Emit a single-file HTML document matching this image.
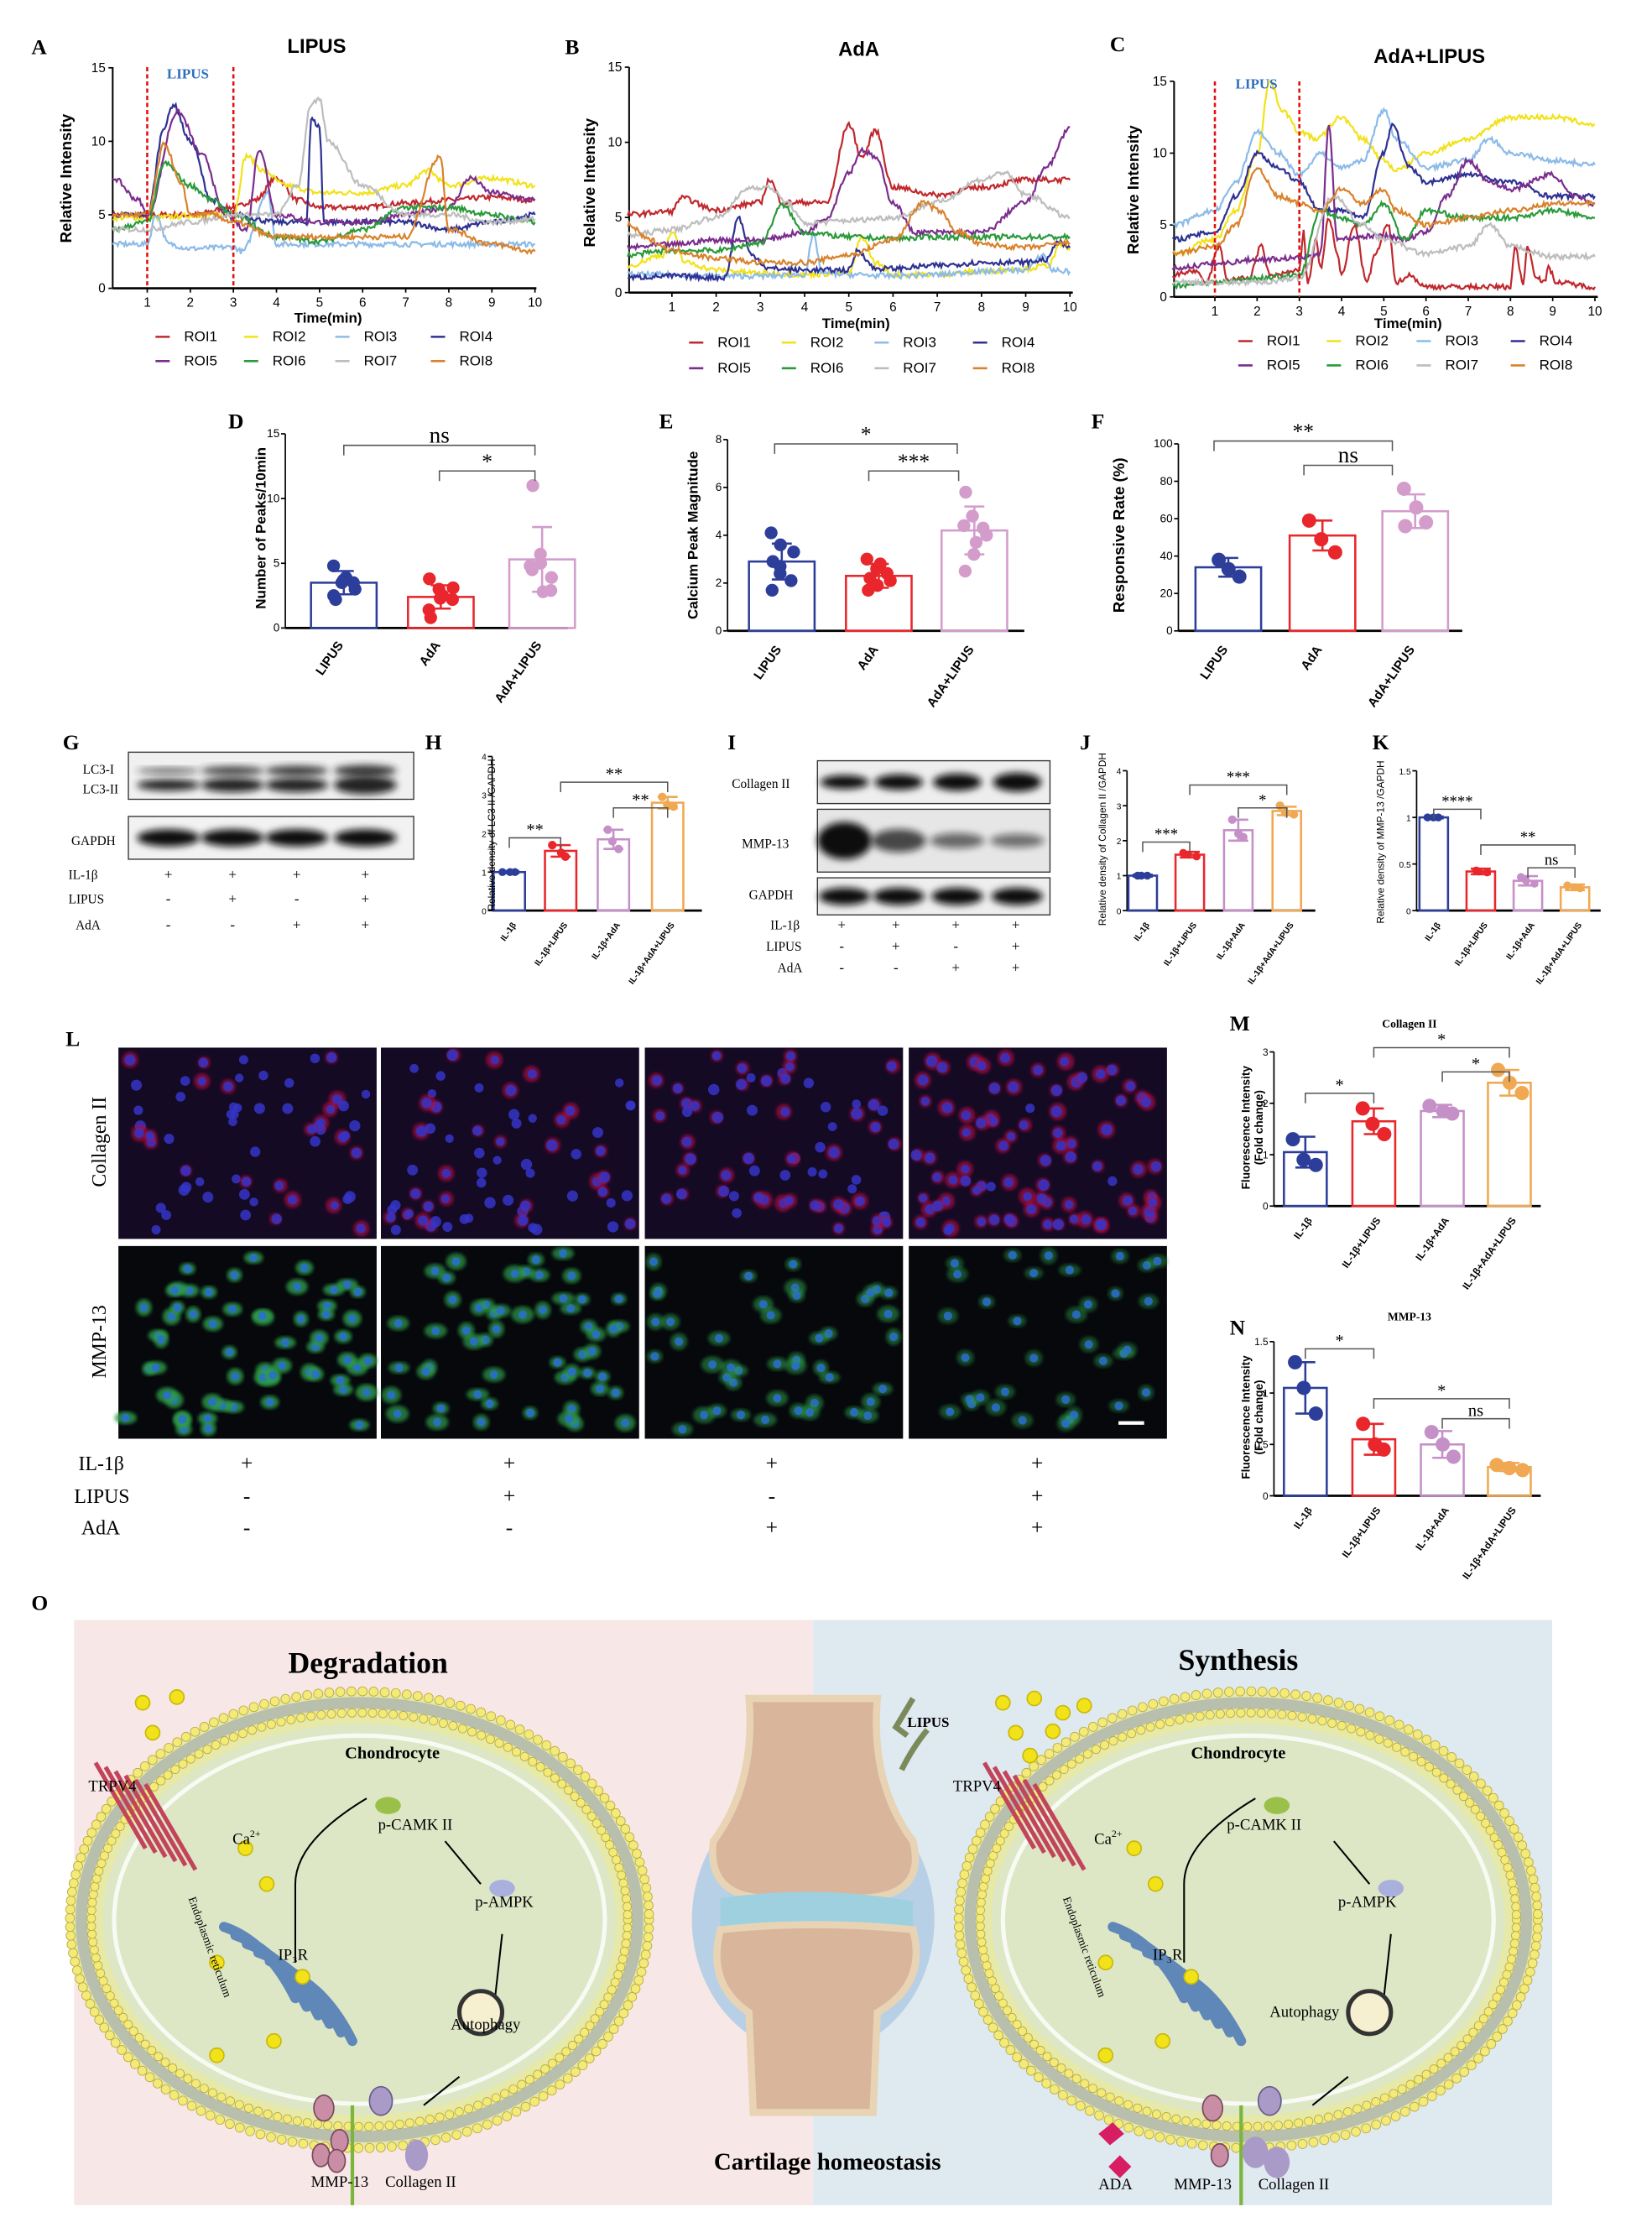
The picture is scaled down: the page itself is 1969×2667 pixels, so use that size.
<!DOCTYPE html>
<html><head><meta charset="utf-8"><style>
html,body{margin:0;padding:0;background:#fff}
svg{display:block}
</style></head><body>
<svg id="sv" width="1969" height="2667" viewBox="0 0 1158 1568" preserveAspectRatio="none" xmlns="http://www.w3.org/2000/svg" font-family="Liberation Sans, sans-serif">
<defs>
<filter id="bl" x="-20%" y="-50%" width="140%" height="200%"><feGaussianBlur stdDeviation="2.5"/></filter>
<filter id="bl1"><feGaussianBlur stdDeviation="1.2"/></filter>
</defs>
<rect width="1158" height="1568" fill="#fff"/>
<g font-weight="bold" font-size="15" font-family="Liberation Serif, serif">
<text x="22" y="38">A</text><text x="396" y="38">B</text><text x="778" y="36">C</text>
<text x="160" y="300">D</text><text x="462" y="300">E</text><text x="765" y="300">F</text>
<text x="44" y="525">G</text><text x="298" y="525">H</text><text x="510" y="525">I</text>
<text x="757" y="525">J</text><text x="962" y="525">K</text><text x="46" y="733">L</text>
<text x="862" y="722">M</text><text x="862" y="935">N</text><text x="22" y="1128">O</text>
</g>
<g font-weight="bold" font-size="14" text-anchor="middle">
<text x="222" y="37">LIPUS</text><text x="602" y="39">AdA</text><text x="1002" y="44">AdA+LIPUS</text>
</g>
<g id="charts"></g>
<g font-size="11" font-weight="bold" text-anchor="middle">
<text transform="translate(50,125) rotate(-90)">Relative Intensity</text>
<text transform="translate(417,128) rotate(-90)">Relative Intensity</text>
<text transform="translate(798,133) rotate(-90)">Relative Intensity</text>
<text x="230" y="226" font-size="10">Time(min)</text>
<text x="600" y="230" font-size="10">Time(min)</text>
<text x="987" y="230" font-size="10">Time(min)</text>
<text transform="translate(186,370) rotate(-90)" font-size="10">Number of Peaks/10min</text>
<text transform="translate(489,375) rotate(-90)" font-size="10">Calcium Peak Magnitude</text>
<text transform="translate(788,375) rotate(-90)" font-size="11">Responsive Rate (%)</text>
</g>
<g id="leg" font-size="10"></g>
<g id="bars"></g>
<g id="wb"></g>
<g font-size="9" font-family="Liberation Serif, serif">
<text x="58" y="542">LC3-I</text><text x="58" y="556">LC3-II</text><text x="50" y="592">GAPDH</text>
<text x="48" y="616">IL-1β</text><text x="48" y="633">LIPUS</text><text x="53" y="651">AdA</text>
<g text-anchor="middle" font-size="10"><text x="118" y="616">+</text><text x="163" y="616">+</text><text x="208" y="616">+</text><text x="256" y="616">+</text>
<text x="118" y="633">-</text><text x="163" y="633">+</text><text x="208" y="633">-</text><text x="256" y="633">+</text>
<text x="118" y="651">-</text><text x="163" y="651">-</text><text x="208" y="651">+</text><text x="256" y="651">+</text></g>
<text x="513" y="552">Collagen II</text><text x="520" y="594">MMP-13</text><text x="525" y="630">GAPDH</text>
<text x="540" y="651">IL-1β</text><text x="537" y="666">LIPUS</text><text x="545" y="681">AdA</text>
<g text-anchor="middle" font-size="10"><text x="590" y="651">+</text><text x="628" y="651">+</text><text x="670" y="651">+</text><text x="712" y="651">+</text>
<text x="590" y="666">-</text><text x="628" y="666">+</text><text x="670" y="666">-</text><text x="712" y="666">+</text>
<text x="590" y="681">-</text><text x="628" y="681">-</text><text x="670" y="681">+</text><text x="712" y="681">+</text></g>
</g>
<g id="mic"></g>
<g font-family="Liberation Serif, serif" font-size="14">
<text transform="translate(74,800) rotate(-90)" text-anchor="middle">Collagen II</text>
<text transform="translate(74,940) rotate(-90)" text-anchor="middle">MMP-13</text>
<text x="55" y="1030">IL-1β</text><text x="52" y="1053">LIPUS</text><text x="57" y="1075">AdA</text>
<g text-anchor="middle" font-size="15"><text x="173" y="1030">+</text><text x="357" y="1030">+</text><text x="541" y="1030">+</text><text x="727" y="1030">+</text>
<text x="173" y="1053">-</text><text x="357" y="1053">+</text><text x="541" y="1053">-</text><text x="727" y="1053">+</text>
<text x="173" y="1075">-</text><text x="357" y="1075">-</text><text x="541" y="1075">+</text><text x="727" y="1075">+</text></g>
</g>
<line x1="784" y1="997" x2="802" y2="997" stroke="#fff" stroke-width="2.5"/>
<g font-size="8" font-weight="bold" text-anchor="middle">
<text x="988" y="720" font-family="Liberation Serif, serif">Collagen II</text>
<text x="988" y="925" font-family="Liberation Serif, serif">MMP-13</text>
<text transform="translate(876,790) rotate(-90)">Fluorescence Intensity</text>
<text transform="translate(885,790) rotate(-90)">(Fold change)</text>
<text transform="translate(876,993) rotate(-90)">Fluorescence Intensity</text>
<text transform="translate(885,993) rotate(-90)">(Fold change)</text>
<text transform="translate(347,585) rotate(-90)" font-size="7" font-weight="normal">Relative density of LC3 II /GAPDH</text>
<text transform="translate(775,588) rotate(-90)" font-size="7" font-weight="normal">Relative density of Collagen II /GAPDH</text>
<text transform="translate(970,590) rotate(-90)" font-size="7" font-weight="normal">Relative density of MMP-13 /GAPDH</text>
</g>
<g id="sch">
<rect x="52" y="1135" width="518" height="410" fill="#f7e7e7"/>
<rect x="570" y="1135" width="518" height="410" fill="#dfe9f0"/>
</g>
<g id="sch2"></g>
<g font-family="Liberation Serif, serif">
<text x="258" y="1172" font-size="21" font-weight="bold" text-anchor="middle">Degradation</text>
<text x="868" y="1170" font-size="21" font-weight="bold" text-anchor="middle">Synthesis</text>
<text x="580" y="1520" font-size="17" font-weight="bold" text-anchor="middle">Cartilage homeostasis</text>
<text x="275" y="1232" font-size="12" font-weight="bold" text-anchor="middle">Chondrocyte</text>
<text x="868" y="1232" font-size="12" font-weight="bold" text-anchor="middle">Chondrocyte</text>
<text x="62" y="1255" font-size="11">TRPV4</text><text x="668" y="1255" font-size="11">TRPV4</text>
<text x="163" y="1292" font-size="11">Ca<tspan font-size="7" dy="-5">2+</tspan></text>
<text x="767" y="1292" font-size="11">Ca<tspan font-size="7" dy="-5">2+</tspan></text>
<text x="265" y="1282" font-size="11">p-CAMK II</text><text x="860" y="1282" font-size="11">p-CAMK II</text>
<text x="333" y="1336" font-size="11">p-AMPK</text><text x="938" y="1336" font-size="11">p-AMPK</text>
<text x="195" y="1373" font-size="11">IP₃R</text><text x="808" y="1373" font-size="11">IP₃R</text>
<text x="316" y="1422" font-size="11">Autophagy</text><text x="890" y="1413" font-size="11">Autophagy</text>
<text x="218" y="1532" font-size="11">MMP-13</text><text x="270" y="1532" font-size="11">Collagen II</text>
<text x="770" y="1534" font-size="11">ADA</text>
<text x="823" y="1534" font-size="11">MMP-13</text><text x="882" y="1534" font-size="11">Collagen II</text>
<text x="636" y="1210" font-size="10" font-weight="bold">LIPUS</text>
<text transform="translate(132,1330) rotate(70)" font-size="8">Endoplasmic reticulum</text>
<text transform="translate(745,1330) rotate(70)" font-size="8">Endoplasmic reticulum</text>
</g>
<text x="117" y="55" font-size="10" fill="#2f6fbf" font-weight="bold" font-family="Liberation Serif, serif">LIPUS</text>
<text x="866" y="62" font-size="10" fill="#2f6fbf" font-weight="bold" font-family="Liberation Serif, serif">LIPUS</text>
<g id="stars" font-family="Liberation Serif, serif" text-anchor="middle"></g>
</svg>
<script>
var NS="http://www.w3.org/2000/svg";
function el(p,tag,a){var e=document.createElementNS(NS,tag);for(var k in a)e.setAttribute(k,a[k]);p.appendChild(e);return e;}
var seed=7;function rnd(){seed=(seed*16807)%2147483647;return (seed-1)/2147483646;}
var C=["#c0282d","#f2e21a","#8cbbe8","#2e3192","#7b2d8e","#2a9a3a","#bdbdbd","#d9822b"];
var g=document.getElementById("charts");
function chart(t0x,ppm,y0,ppu,xl,xr,ytop,data,dashes){
 el(g,"line",{x1:xl,y1:ytop,x2:xl,y2:y0,stroke:"#000","stroke-width":1.2});
 el(g,"line",{x1:xl,y1:y0,x2:xr,y2:y0,stroke:"#000","stroke-width":1.5});
 [0,5,10,15].forEach(function(v){var y=y0-v*ppu;el(g,"line",{x1:xl-3,y1:y,x2:xl,y2:y,stroke:"#000"});var t=el(g,"text",{x:xl-5,y:y+3,"font-size":9,"text-anchor":"end"});t.textContent=v;});
 for(var i=1;i<=10;i++){var x=t0x+i*ppm;el(g,"line",{x1:x,y1:y0,x2:x,y2:y0+3,stroke:"#000"});var t=el(g,"text",{x:x,y:y0+13,"font-size":9,"text-anchor":"middle"});t.textContent=i;}
 data.forEach(function(kp,ci){var pts=[];
  for(var j=0;j<kp.length-1;j+=1){var a=kp[j],b=kp[j+1];var n=Math.max(2,Math.round((b[0]-a[0])/0.03));
   for(var k=0;k<n;k++){var f=k/n;var t=a[0]+(b[0]-a[0])*f;var v=a[1]+(b[1]-a[1])*(0.5-0.5*Math.cos(Math.PI*f));v+=(rnd()-0.5)*0.35;pts.push((t0x+t*ppm).toFixed(1)+","+(y0-v*ppu).toFixed(1));}}
  var l=kp[kp.length-1];pts.push((t0x+l[0]*ppm)+","+(y0-l[1]*ppu));
  el(g,"polyline",{points:pts.join(" "),fill:"none",stroke:C[ci],"stroke-width":1.3});});
 dashes.forEach(function(t){var x=t0x+t*ppm;el(g,"line",{x1:x,y1:ytop,x2:x,y2:y0,stroke:"#e01010","stroke-width":1.5,"stroke-dasharray":"3,2"});});
}
var A=[
[[0.2,5],[1,5],[2,5],[3,5.5],[3.5,6],[4,7.5],[4.5,6],[5,5.5],[6,5.5],[7,5.8],[8,6],[9,6.2],[10,6]],
[[0.2,4.8],[1,4.8],[2.5,5],[3,5],[3.3,9],[3.7,8],[4.2,7],[5,6.5],[6,6.5],[7,7],[7.5,8],[8,7],[9,7.5],[10,7]],
[[0.2,3],[1,3],[1.2,5],[1.5,3],[2,2.7],[3,2.8],[3.2,2.5],[3.8,6.5],[4,3],[5,3],[6,3],[7,3],[8,3],[10,3]],
[[0.2,5],[1,5],[1.4,11],[1.6,12.5],[2,10],[2.5,6],[3,5],[4,4.5],[4.7,4.5],[4.8,11.5],[5,11],[5.1,4.5],[6,4.5],[7,4.5],[8,4],[9,4.5],[10,5]],
[[0.2,7.5],[0.8,6],[1,5],[1.7,12],[2.3,9],[2.8,5],[3.3,4],[3.6,9.5],[4,5],[5,4.5],[6,4.5],[7,5],[8,5.5],[8.5,7.5],[9,6.5],[10,6]],
[[0.2,4],[1,4.5],[1.4,8.5],[2,7],[2.5,6],[3,5],[4,3.5],[5,3.2],[6,4],[7,5.5],[8,5.5],[9,5],[10,4.5]],
[[0.2,4],[1,4],[2,4.5],[3,5],[4,5],[4.5,7],[4.8,12.5],[5,12.8],[5.2,10],[6,7],[7,5],[8,5],[9,4.5],[10,4.7]],
[[0.2,5],[1,5],[1.4,9.8],[1.8,7],[2,5],[2.5,5],[3,4.5],[4,3.5],[5,3.5],[6,3.5],[7,3.5],[7.8,9],[8,4],[9,3],[10,2.5]]];
var B=[
[[0,5.2],[1,5.4],[1.2,6.3],[2,5.5],[3,6],[3.2,7.5],[3.5,6],[4,6],[4.5,6],[5,11.2],[5.3,9],[5.6,10.8],[6,7],[7,6.5],[8,7],[9,7.5],[10,7.5]],
[[0,1.8],[0.8,2.5],[1,4],[1.3,2],[2,1.5],[3,1.3],[4,1.2],[5,1.3],[5.3,3.7],[5.6,2],[6,1.2],[7,1.2],[8,1.4],[9,1.6],[9.5,1.8],[9.8,3.2],[10,3]],
[[0,1.2],[1,1.2],[2,1.1],[3,1.1],[4,1.2],[4.2,3.8],[4.4,1.3],[5,1.2],[6,1.1],[7,1.2],[8,1.4],[9,1.5],[9.4,2.5],[9.6,1.5],[10,1.4]],
[[0,1],[1,1.1],[2,1],[2.2,1],[2.5,5],[2.8,2.5],[3.2,1.6],[4,1.5],[5,1.5],[5.2,2.8],[5.6,1.6],[6,1.6],[7,1.8],[8,2],[9,2],[9.5,2.2],[9.7,3.4],[10,3]],
[[0,3],[1,3.2],[2,3.5],[3,3.5],[4,4],[4.5,5],[5,8],[5.3,9.5],[5.6,9],[6,6],[6.5,4],[7,4],[8,4],[9,6],[9.5,8.5],[10,11]],
[[0,2.5],[1,2.8],[2,2.8],[3,3.3],[3.5,5.8],[4,4],[5,3.7],[6,3.6],[7,3.7],[8,3.7],[10,3.7]],
[[0,3.8],[1,4.2],[2,5],[2.8,7],[3.2,7],[3.6,6],[4,4.6],[5,4.8],[6,5],[7,6],[8,7.5],[8.5,8],[9,6.5],[10,5]],
[[0,4.5],[0.5,3.5],[1,2.8],[2,2.3],[3,2],[4,2],[5,2.5],[6,3.5],[6.7,6],[7,5.5],[7.5,4],[8,3.2],[9,3],[10,3.3]]];
var Cc=[
[[0,1.5],[0.5,1.8],[0.8,1],[1.1,3.5],[1.3,1.2],[1.8,1.3],[2.1,3.5],[2.3,1.5],[3,1.8],[3.1,4.5],[3.2,1],[3.4,4],[3.5,2],[3.7,5.5],[3.9,3],[4,1.5],[4.3,5],[4.6,1],[4.8,3],[5.1,5],[5.3,1],[5.6,1.5],[6,0.7],[7,0.7],[8,0.7],[8.1,3.5],[8.3,1],[8.4,3.5],[8.6,1.5],[8.8,1],[8.9,2],[9.1,1],[10,0.7]],
[[0,3],[1,4],[1.5,6],[2,10],[2.3,15],[2.6,13],[3,11.5],[3.4,11],[4,12.5],[4.5,11],[5,9.5],[5.3,8.8],[6,10],[7,11],[8,12.5],[9,12.5],[10,12]],
[[0,5],[1,6],[1.5,8],[2,11.5],[2.5,10],[3,8.5],[3.5,10],[4,9],[4.5,9.5],[5,13],[5.3,11],[6,9],[7,9.5],[7.5,11],[8,10],[9,9.5],[10,9.2]],
[[0,4],[1,4.5],[1.5,7],[2,10],[2.5,9],[3,8],[3.5,6],[4,6],[4.5,5.5],[5,10],[5.2,12],[5.6,9],[6,8],[7,8.5],[8,8],[9,7],[10,7]],
[[0,2],[1,2.3],[2,2.6],[3,2.7],[3.5,3],[3.7,12],[3.9,4],[4.5,4.2],[5,4.3],[5.5,4],[6,4.5],[6.5,7],[7,9.5],[7.5,8],[8,7.5],[9,8.5],[9.5,7],[10,6.5]],
[[0,0.8],[1,1],[2,1.3],[3,1.5],[3.5,6],[4,5.5],[4.5,5],[5,6.5],[5.5,4],[6,6],[7,5.5],[8,5.5],[9,6],[10,5.5]],
[[0,1],[1,1],[2,1],[3,1.3],[3.8,7],[4.5,5],[5,4],[6,3],[7,3.5],[7.5,5],[8,3.5],[9,2.8],[10,2.8]],
[[0,3],[1,3.5],[1.5,5],[2,9],[2.5,7],[3,6.5],[3.5,6],[4,7.5],[4.5,6.5],[5,7.5],[5.3,6],[6,5],[7,5.5],[8,6],[9,6.5],[10,6.5]]];
chart(73,30.2,202,10.3,79,376,47,A,[1,3]);
chart(440,31,205,10.53,441,752,47,B,[]);
chart(822,29.6,208,10.07,823,1120,57,Cc,[1,3]);
var lg=document.getElementById("leg");
function legend(xs,y1,y2){var names=["ROI1","ROI2","ROI3","ROI4","ROI5","ROI6","ROI7","ROI8"];
 names.forEach(function(n,i){var x=xs[i%4],y=i<4?y1:y2;el(lg,"line",{x1:x-20,y1:y-3,x2:x-10,y2:y-3,stroke:C[i],"stroke-width":1.5});var t=el(lg,"text",{x:x,y:y});t.textContent=n;});}
legend([129,191,255,322],239,256);legend([503,568,633,702],243,261);legend([888,950,1013,1079],242,259);
var bg=document.getElementById("bars");
function axes(xl,xr,y0,ytop,ticks,ppu,fs){el(bg,"line",{x1:xl,y1:ytop,x2:xl,y2:y0,stroke:"#000","stroke-width":1});el(bg,"line",{x1:xl,y1:y0,x2:xr,y2:y0,stroke:"#000","stroke-width":1.6});
 ticks.forEach(function(v){var y=y0-v*ppu;el(bg,"line",{x1:xl-3,y1:y,x2:xl,y2:y,stroke:"#000"});var t=el(bg,"text",{x:xl-4,y:y+2.5,"font-size":fs,"text-anchor":"end"});t.textContent=v;});}
function bar(cx,w,y0,ppu,mean,sd,col,vals,r){el(bg,"rect",{x:cx-w/2,y:y0-mean*ppu,width:w,height:mean*ppu,fill:"none",stroke:col,"stroke-width":1.5});
 var yt=y0-(mean+sd)*ppu,yb=y0-(mean-sd)*ppu;el(bg,"line",{x1:cx,y1:yt,x2:cx,y2:yb,stroke:col,"stroke-width":1.5});el(bg,"line",{x1:cx-7,y1:yt,x2:cx+7,y2:yt,stroke:col,"stroke-width":1.5});el(bg,"line",{x1:cx-7,y1:yb,x2:cx+7,y2:yb,stroke:col,"stroke-width":1.5});
 vals.forEach(function(v,i){var dx=(i%3-1)*r*1.6+(rnd()-0.5)*3;el(bg,"circle",{cx:cx+dx,cy:y0-v*ppu,r:r,fill:col});});}
function xlab(xs,y,labs,fs){labs.forEach(function(l,i){var t=el(bg,"text",{transform:"translate("+xs[i]+","+y+") rotate(-55)","font-size":fs,"text-anchor":"end","font-weight":"bold"});t.textContent=l;});}
var NV="#2d3e9a",RD="#e8262b",PK="#d39ccb",OR="#f0a852",PU="#c58fc8";
axes(200,398,440,304,[0,5,10,15],9.07,8);
bar(241,46,440,9.07,3.5,0.9,NV,[4.8,3.9,3.5,2.5,3.5,3.0,2.2,3.7],4.5);
bar(309,46,440,9.07,2.4,0.9,RD,[3.8,3.0,2.2,1.4,2.5,3.1,0.8,2.3],4.5);
bar(380,46,440,9.07,5.3,2.5,PK,[11,5.7,3.9,4.8,5.0,2.9,4.5,2.8],4.5);
xlab([241,309,380],452,["LIPUS","AdA","AdA+LIPUS"],9);
axes(510,718,442,308,[0,2,4,6,8],16.75,8);
bar(548,46,442,16.75,2.9,0.75,NV,[4.1,3.6,3.3,2.9,2.7,2.1,1.7,2.4],4.5);
bar(616,46,442,16.75,2.3,0.5,RD,[3.0,2.8,2.4,2.2,1.9,2.1,1.7,2.6],4.5);
bar(683,46,442,16.75,4.2,1.0,PK,[5.8,4.8,4.0,4.4,3.7,4.3,2.5,3.2],4.5);
xlab([548,616,683],455,["LIPUS","AdA","AdA+LIPUS"],9);
axes(826,1025,442,311,[0,20,40,60,80,100],1.31,8);
bar(861,46,442,1.31,34,5,NV,[38,33,29],5);
bar(927,46,442,1.31,51,8,RD,[59,49,42],5);
bar(992,46,442,1.31,64,9,PK,[76,66,58,56],5);
xlab([861,927,992],455,["LIPUS","AdA","AdA+LIPUS"],9);
var l4=["IL-1β","IL-1β+LIPUS","IL-1β+AdA","IL-1β+AdA+LIPUS"];
axes(345,492,638,530,[0,1,2,3,4],27,6);
bar(357,22,638,27,1,0.03,NV,[1,1,1],2.8);bar(393,22,638,27,1.55,0.15,RD,[1.7,1.5,1.4],3);bar(430,22,638,27,1.85,0.25,PU,[2.1,1.8,1.6],3);bar(468,22,638,27,2.8,0.15,OR,[2.95,2.75,2.7],3);
xlab([362,398,435,473],648,l4,6);
axes(790,922,638,540,[0,1,2,3,4],24.5,6);
bar(801,20,638,24.5,1,0.03,NV,[1,1,1],2.8);bar(834,20,638,24.5,1.6,0.08,RD,[1.65,1.6,1.55],2.8);bar(868,20,638,24.5,2.3,0.3,PU,[2.6,2.2,2.1],3);bar(902,20,638,24.5,2.85,0.12,OR,[3.0,2.8,2.75],3);
xlab([806,839,873,907],648,l4,6);
axes(993,1122,638,540,[0.0,0.5,1.0,1.5],65.3,6);
bar(1005,20,638,65.3,1,0.01,NV,[1,1,1],2.8);bar(1038,20,638,65.3,0.42,0.03,RD,[0.43,0.42,0.41],2.8);bar(1071,20,638,65.3,0.32,0.05,PU,[0.36,0.32,0.29],2.8);bar(1104,20,638,65.3,0.25,0.03,OR,[0.27,0.25,0.24],2.8);
xlab([1010,1043,1076,1109],648,l4,6);
axes(893,1080,845,737,[0,1,2,3],36,7);
bar(915,30,845,36,1.05,0.3,NV,[1.3,0.9,0.8],5);bar(963,30,845,36,1.65,0.25,RD,[1.9,1.6,1.4],5);bar(1011,30,845,36,1.85,0.12,PU,[1.95,1.85,1.8],5);bar(1058,30,845,36,2.4,0.25,OR,[2.65,2.4,2.2],5);
xlab([920,968,1016,1063],855,l4,7);
axes(893,1080,1048,940,[0.0,0.5,1.0,1.5],72,7);
bar(915,30,1048,72,1.05,0.25,NV,[1.3,1.05,0.8],5);bar(963,30,1048,72,0.55,0.15,RD,[0.7,0.5,0.45],5);bar(1011,30,1048,72,0.5,0.13,PU,[0.62,0.5,0.38],5);bar(1058,30,1048,72,0.28,0.04,OR,[0.3,0.27,0.25],5);
xlab([920,968,1016,1063],1058,l4,7);
var sg=document.getElementById("stars");
function br(x1,x2,y,lab,fs){el(sg,"polyline",{points:x1+","+(y+7)+" "+x1+","+y+" "+x2+","+y+" "+x2+","+(y+7),fill:"none",stroke:"#555","stroke-width":0.9});var t=el(sg,"text",{x:(x1+x2)/2,y:y-2,"font-size":fs});t.textContent=lab;}
br(241,375,312,"ns",16);br(308,375,330,"*",15);
br(543,671,311,"*",15);br(609,672,330,"***",15);
br(851,976,309,"**",15);br(914,976,326,"ns",16);
br(357,393,587,"**",12);br(393,468,548,"**",12);br(430,468,566,"**",12);
br(801,834,590,"***",11);br(834,902,550,"***",11);br(868,902,566,"*",11);
br(1005,1038,567,"****",11);br(1038,1104,592,"**",11);br(1071,1104,608,"ns",11);
br(915,963,766,"*",12);br(963,1058,734,"*",12);br(1011,1058,751,"*",12);
br(915,963,945,"*",12);br(963,1058,980,"*",12);br(1011,1058,994,"ns",12);
var wb=document.getElementById("wb");
el(wb,"rect",{x:90,y:527,width:200,height:33,fill:"#f0f0f0",stroke:"#333","stroke-width":0.8});
el(wb,"rect",{x:90,y:572,width:200,height:30,fill:"#f2f2f2",stroke:"#333","stroke-width":0.8});
[[118,0.5,0.8],[163,0.8,1],[208,0.9,1],[256,1,1]].forEach(function(b){
 el(wb,"ellipse",{cx:b[0],cy:540,rx:22,ry:4*b[1],fill:"#222",opacity:0.5+0.4*b[1],filter:"url(#bl)"});
 el(wb,"ellipse",{cx:b[0],cy:550,rx:22,ry:5*b[2]*(b[0]==256?1.3:1),fill:"#111",opacity:0.9,filter:"url(#bl)"});
 el(wb,"ellipse",{cx:b[0],cy:587,rx:22,ry:6,fill:"#111",filter:"url(#bl)"});});
el(wb,"rect",{x:573,y:533,width:163,height:30,fill:"#eee",stroke:"#333","stroke-width":0.8});
el(wb,"rect",{x:573,y:567,width:163,height:44,fill:"#e6e6e6",stroke:"#333","stroke-width":0.8});
el(wb,"rect",{x:573,y:615,width:163,height:26,fill:"#eee",stroke:"#333","stroke-width":0.8});
[[592,0.8,1],[630,0.9,0.55],[671,1,0.3],[713,1.1,0.25]].forEach(function(b){
 el(wb,"ellipse",{cx:b[0],cy:548,rx:17,ry:6*b[1],fill:"#111",filter:"url(#bl)"});
 el(wb,"ellipse",{cx:b[0],cy:589,rx:19,ry:11*b[2]+2,fill:"#111",opacity:0.4+0.6*b[2],filter:"url(#bl)"});
 el(wb,"ellipse",{cx:b[0],cy:628,rx:18,ry:6,fill:"#111",filter:"url(#bl)"});});
var mc=document.getElementById("mic");
var cols=[83,267,452,637],ws=181;
cols.forEach(function(x,ci){
 el(mc,"rect",{x:x,y:734,width:ws,height:134,fill:"#140a24"});
 el(mc,"rect",{x:x,y:873,width:ws,height:135,fill:"#06080c"});
 var nr=[60,65,65,80][ci];
 for(var i=0;i<nr;i++){var cx=x+5+rnd()*(ws-10),cy=739+rnd()*124;var red=[0.25,0.5,0.6,0.95][ci];
  if(rnd()<red)el(mc,"circle",{cx:cx,cy:cy,r:4+rnd()*2,fill:"#b01040",opacity:0.7,filter:"url(#bl1)"});
  el(mc,"circle",{cx:cx+(rnd()-0.5)*2,cy:cy,r:3+rnd(),fill:"#3535c8",opacity:0.85});}
 var ng=[60,55,45,35][ci];
 for(var i=0;i<ng;i++){var cx=x+5+rnd()*(ws-10),cy=878+rnd()*125;
  el(mc,"ellipse",{cx:cx,cy:cy,rx:5+rnd()*3,ry:4+rnd()*2,fill:"#2e9e4a",opacity:[0.8,0.7,0.55,0.45][ci],filter:"url(#bl1)"});
  el(mc,"circle",{cx:cx,cy:cy,r:3,fill:"#2a6fd0",opacity:0.85});}
});
var s2=document.getElementById("sch2");
function cell(cx,cy){
 var RX=203,RY=160;
 el(s2,"ellipse",{cx:cx,cy:cy,rx:RX,ry:RY,fill:"#e6e9a8"});
 for(var a=0;a<360;a+=2.2){var r=a*Math.PI/180;el(s2,"circle",{cx:cx+RX*Math.cos(r),cy:cy+RY*Math.sin(r),r:3.2,fill:"#f3ea7a",stroke:"#b9aa3a","stroke-width":0.5});
  el(s2,"circle",{cx:cx+(RX-15)*Math.cos(r),cy:cy+(RY-15)*Math.sin(r),r:3,fill:"#f3ea7a",stroke:"#b9aa3a","stroke-width":0.5});}
 el(s2,"ellipse",{cx:cx,cy:cy,rx:RX-8,ry:RY-8,fill:"none",stroke:"#9aa3b0","stroke-width":8,opacity:0.6});
 el(s2,"ellipse",{cx:cx,cy:cy,rx:RX-23,ry:RY-23,fill:"#dde7c6"});
 el(s2,"ellipse",{cx:cx,cy:cy,rx:RX-31,ry:RY-31,fill:"none",stroke:"#fff","stroke-width":3,opacity:0.8});
 for(var i=0;i<6;i++)el(s2,"path",{d:"M"+(cx-95+i*8)+","+(cy+5+i*6)+" q30,10 50,50",fill:"none",stroke:"#5f88b8","stroke-width":7,"stroke-linecap":"round"});
 for(var i=0;i<6;i++)el(s2,"line",{x1:cx-185+i*7,y1:cy-110+i*3,x2:cx-150+i*7,y2:cy-50+i*3,stroke:"#c2435a","stroke-width":3});
 el(s2,"path",{d:"M"+(cx-45)+","+(cy+30)+" L"+(cx-45)+","+(cy-25)+" Q"+(cx-45)+","+(cy-55)+" "+(cx+5)+","+(cy-85),fill:"none",stroke:"#000","stroke-width":1.2});
 el(s2,"line",{x1:cx+60,y1:cy-55,x2:cx+85,y2:cy-25,stroke:"#000","stroke-width":1.2});
 el(s2,"line",{x1:cx+100,y1:cy+10,x2:cx+95,y2:cy+55,stroke:"#000","stroke-width":1.2});
 el(s2,"line",{x1:cx+70,y1:cy+110,x2:cx+45,y2:cy+130,stroke:"#000","stroke-width":1.2});
 el(s2,"line",{x1:cx-5,y1:cy+130,x2:cx-5,y2:cy+200,stroke:"#7bb63a","stroke-width":2.5});
 el(s2,"ellipse",{cx:cx+20,cy:cy-80,rx:9,ry:6,fill:"#9ac04a"});
 el(s2,"ellipse",{cx:cx+100,cy:cy-22,rx:9,ry:6,fill:"#aab0dd"});
 el(s2,"circle",{cx:cx+85,cy:cy+65,r:15,fill:"#f6f0d0",stroke:"#333","stroke-width":3});
 el(s2,"ellipse",{cx:cx-25,cy:cy+132,rx:7,ry:9,fill:"#c98ea6",stroke:"#7a4a5a"});
 el(s2,"ellipse",{cx:cx+15,cy:cy+127,rx:8,ry:10,fill:"#a99ac8",stroke:"#6a5a8a"});
 [[-80,-50],[-65,-25],[-40,40],[-100,30],[-60,85],[-100,95]].forEach(function(p){el(s2,"circle",{cx:cx+p[0],cy:cy+p[1],r:5,fill:"#f2e21a",stroke:"#c9b90a"});});
}
cell(252,1345);cell(875,1345);
[[100,1193],[124,1189],[107,1214],[703,1193],[725,1190],[745,1200],[760,1195],[712,1214],[738,1213],[722,1230]].forEach(function(p){el(s2,"circle",{cx:p[0],cy:p[1],r:5,fill:"#f2e21a",stroke:"#c9b90a"});});
[[225,1522],[238,1512],[236,1526],[855,1522]].forEach(function(p){el(s2,"ellipse",{cx:p[0],cy:p[1]-12,rx:6,ry:8,fill:"#c98ea6",stroke:"#7a4a5a"});});
el(s2,"ellipse",{cx:292,cy:1510,rx:8,ry:11,fill:"#a99ac8"});
el(s2,"ellipse",{cx:880,cy:1508,rx:9,ry:11,fill:"#a99ac8"});el(s2,"ellipse",{cx:895,cy:1515,rx:9,ry:11,fill:"#a99ac8"});
el(s2,"path",{d:"M770,1495 l10,-8 l8,8 l-10,8z M785,1510 l8,8 l-8,8 l-8,-8z",fill:"#d81e63"});
el(s2,"ellipse",{cx:570,cy:1345,rx:85,ry:95,fill:"#b8d0e6"});
el(s2,"path",{d:"M525,1190 L615,1190 Q610,1250 640,1290 Q650,1330 600,1330 L570,1340 L540,1330 Q495,1330 500,1290 Q530,1250 525,1190z",fill:"#d9b59c",stroke:"#e8d4b4","stroke-width":5});
el(s2,"path",{d:"M505,1330 Q570,1320 640,1332 L640,1350 Q570,1342 505,1350z",fill:"#9fd0df"});
el(s2,"path",{d:"M505,1352 Q570,1345 640,1352 Q650,1390 615,1410 L612,1480 L528,1480 L525,1410 Q495,1390 505,1352z",fill:"#d9b59c",stroke:"#e8d4b4","stroke-width":5});
el(s2,"path",{d:"M640,1190 l-12,20 l8,6 M650,1212 q-10,12 -18,28",fill:"none",stroke:"#7a8a5a","stroke-width":4});
</script>
</body></html>
